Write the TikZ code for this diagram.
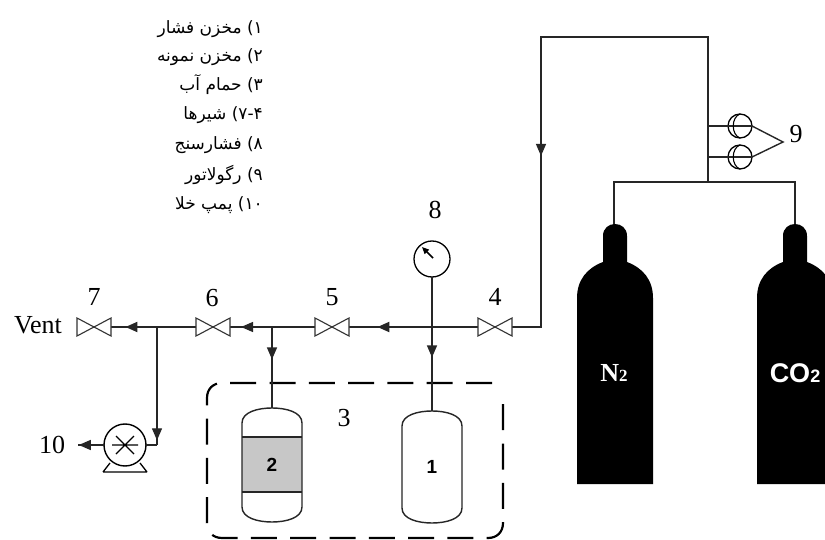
\documentclass[tikz,border=0pt]{standalone}
\usepackage{fontspec}
\setmainfont{Liberation Serif}
\setsansfont{Liberation Sans}
\newfontfamily\arabicfont[Script=Arabic]{DejaVu Sans}
\TeXXeTstate=1
\usetikzlibrary{arrows.meta,decorations.markings}
\tikzset{
  pipe/.style={line width=1.4pt,black!85},
  heavy/.style={line width=2pt,black!85},
  flowmark/.style={postaction={decorate},decoration={markings,mark=at position #1 with {\arrow{Triangle[length=12pt,width=10pt]}}}},
  valvebox/.style={minimum width=34pt,minimum height=18pt,inner sep=0pt,outer sep=0pt},
  valveline/.style={line width=1.1pt,black!80,fill=white},
  numlabel/.style={font=\fontsize{26}{26}\selectfont,inner sep=0pt},
  vessellabel/.style={font=\sffamily\bfseries\fontsize{19}{19}\selectfont,inner sep=0pt},
  legend/.style={font=\arabicfont\fontsize{17}{17}\selectfont,anchor=east,inner sep=0pt},
  gauge/.style={circle,draw,line width=1.3pt,minimum size=36pt,inner sep=0pt,outer sep=0pt},
  regulator/.style={circle,draw,line width=1.3pt,minimum size=24pt,inner sep=0pt,outer sep=0pt},
  pumpbody/.style={circle,draw,line width=1.4pt,minimum size=42pt,inner sep=0pt,outer sep=0pt},
  vesselline/.style={line width=1.4pt,black!85}
}
\newcommand{\drawvalve}[1]{\draw[valveline] (#1.north west)--(#1.south east)--(#1.north east)--(#1.south west)--cycle;}
\newcommand{\gascyl}[1]{%
  \fill[black] (#1-38,484) -- (#1-38,298) .. controls (#1-38,280) and (#1-28,268) .. (#1-12,262)
   -- (#1-12,236) .. controls (#1-12,220) and (#1+12,220) .. (#1+12,236) -- (#1+12,262)
   .. controls (#1+28,268) and (#1+38,280) .. (#1+38,298) -- (#1+38,484) -- cycle;}
\newcommand{\vesselshape}[3]{% cx, top, bottom
  \draw[vesselline] (#1-30,#2+15) .. controls (#1-30,#2+4) and (#1-14,#2) .. (#1,#2)
    .. controls (#1+14,#2) and (#1+30,#2+4) .. (#1+30,#2+15) -- (#1+30,#3-15)
    .. controls (#1+30,#3-4) and (#1+14,#3) .. (#1,#3)
    .. controls (#1-14,#3) and (#1-30,#3-4) .. (#1-30,#3-15) -- cycle;}
\begin{document}
\begin{tikzpicture}[x=1pt,y=-1pt]
\useasboundingbox (0,0) rectangle (825,540);
\clip (0,0) rectangle (825,540);
\fill[white] (0,0) rectangle (825,540);
% legend
\node[legend] (l1) at (263,29) {\beginR ۱) مخزن فشار\endR};
\node[legend] (l2) at (263,57) {\beginR ۲) مخزن نمونه\endR};
\node[legend] (l3) at (263,85) {\beginR ۳) حمام آب\endR};
\node[legend] (l4) at (263,115) {\beginR ۷-۴) شیرها\endR};
\node[legend] (l5) at (263,145) {\beginR ۸) فشارسنج\endR};
\node[legend] (l6) at (263,175) {\beginR ۹) رگولاتور\endR};
\node[legend] (l7) at (263,205) {\beginR ۱۰) پمپ خلا\endR};
% nodes
\node[valvebox] (v4) at (495,327) {};
\node[valvebox] (v5) at (332,327) {};
\node[valvebox] (v6) at (213,327) {};
\node[valvebox] (v7) at (94,327) {};
\node[gauge] (g) at (432,259) {};
\node[regulator] (r1) at (740,126) {};
\node[regulator] (r2) at (740,157) {};
\node[pumpbody] (pump) at (125,445) {};
\coordinate (j8) at (432,327);
\coordinate (j2) at (272,327);
\coordinate (jp) at (157,327);
\coordinate (c1) at (541,327);
\coordinate (c2) at (541,37);
\coordinate (c3) at (708,37);
\coordinate (c4) at (708,182);
\coordinate (n2top) at (614,226);
\coordinate (co2top) at (795,226);
\coordinate (n2c) at (614,182);
\coordinate (co2c) at (795,182);
\coordinate (v1top) at (432,411);
\coordinate (v2top) at (272,408);
\coordinate (pc) at (157,445);
\coordinate (out) at (78,445);
\coordinate (nine) at (783,142);
\coordinate (r1b) at (708,126);
\coordinate (r2b) at (708,157);
% dashed bath
\draw[line width=2.2pt,dash pattern=on 26pt off 13.3pt] (492,383) -- (222,383)
  .. controls (213,383) and (207,389) .. (207,398) -- (207,523)
  .. controls (207,532) and (213,538) .. (222,538) -- (488,538)
  .. controls (497,538) and (503,532) .. (503,523) -- (503,393);
% pipes
\draw[pipe] (c4) -- (c3) -- (c2) -- (c1) -- (v4.east);
\draw[pipe,flowmark=0.41] (c2) -- (c1);
\draw[pipe] (n2top) -- (n2c) -- (co2c) -- (co2top);
\draw[pipe] (r1b) -- (r1.east);
\draw[pipe] (r2b) -- (r2.east);
\draw[heavy,flowmark=0.78] (v4.west) -- (j8) -- (v5.east);
\draw[pipe,flowmark=0.87] (v5.west) -- (v6.east);
\draw[heavy,flowmark=0.83] (v6.west) -- (v7.east);
\draw[pipe,flowmark=0.60] (g.south) -- (v1top);
\draw[pipe,flowmark=0.40] (j2) -- (v2top);
\draw[pipe,flowmark=0.96] (jp) -- (pc);
\draw[pipe] (pc) -- (pump.east);
\draw[pipe,flowmark=0.97] (pump.west) -- (out);
\draw[pipe] (r1.east) -- (nine) -- (r2.east);
% valves
\drawvalve{v4}\drawvalve{v5}\drawvalve{v6}\drawvalve{v7}
% regulators inner arcs
\draw[line width=1.1pt] (740,114) .. controls (731,117) and (731,135) .. (740,138);
\draw[line width=1.1pt] (740,145) .. controls (731,148) and (731,166) .. (740,169);
% gauge needle
\draw[line width=1.5pt,-{Triangle[length=7pt,width=6pt]}] (g.center) ++(1,-1) -- (422,247);
% pump
\draw[line width=1.1pt] (112,445) -- (138,445) (116,436) -- (134,454) (134,436) -- (116,454);
\draw[line width=1.3pt] (103,472) -- (147,472) (103,472) -- (110,463) (147,472) -- (140,463);
% vessels
\fill[black!22] (242,437) rectangle (302,492);
\vesselshape{272}{408}{522}
\draw[vesselline] (242,437) -- (302,437) (242,492) -- (302,492);
\vesselshape{432}{411}{523}
% cylinders
\gascyl{615}
\gascyl{795}
% labels
\node[vessellabel] (t1) at (432,467) {1};
\node[vessellabel] (t2) at (272,465) {2};
\node[font=\bfseries\fontsize{26}{26}\selectfont,text=white,inner sep=0pt] (tn) at (614,373) {N\fontsize{17}{17}\selectfont 2};
\node[font=\sffamily\bfseries\fontsize{27}{27}\selectfont,text=white,inner sep=0pt] (tc) at (795,373) {CO\fontsize{18}{18}\selectfont 2};
\node[numlabel] (n7) at (94,297) {7};
\node[numlabel] (n6) at (212,298) {6};
\node[numlabel] (n5) at (332,297) {5};
\node[numlabel] (n4) at (495,297) {4};
\node[numlabel] (n8) at (435,210) {8};
\node[numlabel] (n3) at (344,418) {3};
\node[numlabel] (n9) at (796,134) {9};
\node[numlabel] (n10) at (52,445) {10};
\node[numlabel] (vent) at (38,325) {Vent};
\end{tikzpicture}
\end{document}
